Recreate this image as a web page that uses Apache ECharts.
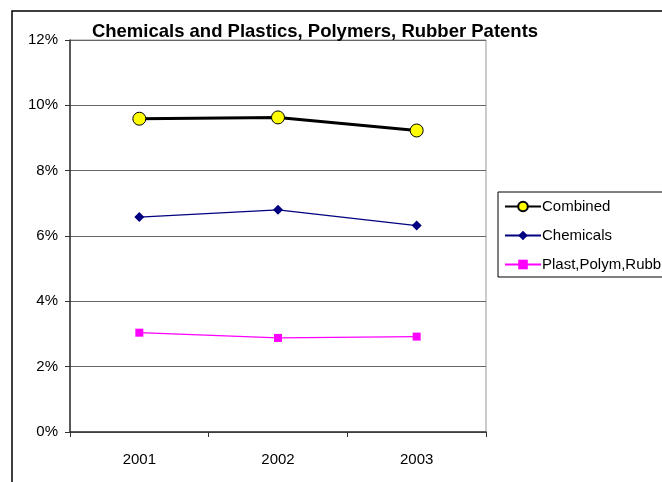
<!DOCTYPE html>
<html>
<head>
<meta charset="utf-8">
<script src="https://cdn.jsdelivr.net/npm/echarts@6/dist/echarts.min.js"></script>
<style>
html, body { margin: 0; padding: 0; background: #fff; }
#chart { width: 662px; height: 482px; }
</style>
</head>
<body>
<div id="chart"></div>
<script>
var years = ['2001', '2002', '2003'];
var combined = [9.59, 9.63, 9.23];
var chemicals = [6.58, 6.80, 6.32];
var plastPolymRubb = [3.04, 2.88, 2.92];

var dom = document.getElementById('chart');
var myChart = echarts.init(dom);
var font = 'Liberation Sans, Arial, sans-serif';

var option = {
    animation: false,
    title: {
        text: 'Chemicals and Plastics, Polymers, Rubber Patents',
        left: 310,
        textAlign: 'center',
        top: 17,
        textStyle: { fontFamily: font, fontSize: 18.5, fontWeight: 'bold', color: '#000' }
    },
    graphic: [{
        type: 'rect',
        shape: { x: 12, y: 11, width: 700, height: 500 },
        style: { fill: 'none', stroke: '#000', lineWidth: 1.5 },
        silent: true
    }],
    legend: {
        orient: 'vertical',
        left: 498,
        top: 192,
        width: 200,
        padding: [7, 30, 5, 6],
        itemGap: 14,
        itemWidth: 36,
        itemHeight: 12,
        borderColor: '#000',
        borderWidth: 1,
        textStyle: { fontFamily: font, fontSize: 15, color: '#000', padding: [0, 0, 0, -4] },
        data: ['Combined', 'Chemicals', 'Plast,Polym,Rubb']
    },
    grid: {
        left: 70,
        right: 176,
        top: 40,
        bottom: 50,
        show: true,
        borderColor: '#999',
        borderWidth: 1
    },
    xAxis: {
        type: 'category',
        data: years,
        boundaryGap: true,
        axisLine: { lineStyle: { color: '#333', width: 1.5 } },
        axisTick: { show: true, length: 5, lineStyle: { color: '#333' } },
        axisLabel: { fontFamily: font, fontSize: 15, color: '#000', margin: 20 }
    },
    yAxis: {
        type: 'value',
        min: 0,
        max: 12,
        interval: 2,
        axisLine: { show: true, lineStyle: { color: '#333', width: 1.5 } },
        axisTick: { show: true, length: 5, lineStyle: { color: '#333' } },
        splitLine: { lineStyle: { color: '#666', width: 1 } },
        axisLabel: { fontFamily: font, fontSize: 15, color: '#000', margin: 12, formatter: '{value}%' }
    },
    series: [
        {
            name: 'Combined',
            type: 'line',
            data: combined,
            lineStyle: { color: '#000', width: 3 },
            symbol: 'circle',
            symbolSize: 13,
            itemStyle: { color: '#ffff00', borderColor: '#000', borderWidth: 1 }
        },
        {
            name: 'Chemicals',
            type: 'line',
            data: chemicals,
            lineStyle: { color: '#000080', width: 1.2 },
            symbol: 'diamond',
            symbolSize: 10,
            itemStyle: { color: '#000080' }
        },
        {
            name: 'Plast,Polym,Rubb',
            type: 'line',
            data: plastPolymRubb,
            lineStyle: { color: '#ff00ff', width: 1.2 },
            symbol: 'rect',
            symbolSize: 8,
            itemStyle: { color: '#ff00ff' }
        }
    ]
};
myChart.setOption(option);
</script>
</body>
</html>
